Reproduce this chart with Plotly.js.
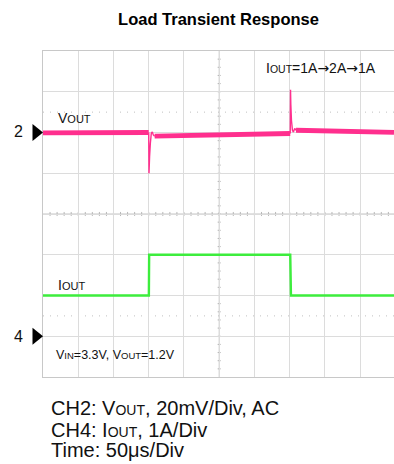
<!DOCTYPE html>
<html>
<head>
<meta charset="utf-8">
<script src="https://cdn.plot.ly/plotly-3.0.1.min.js"></script>
<style>html,body{margin:0;padding:0;background:#fff;}#chart{width:394px;height:464px;}</style>
</head>
<body>
<div id="chart"></div>
<script>
// ---- data (time in µs, VOUT in mV AC-coupled, IOUT in A) ----
const titleText = 'Load Transient Response';
// steady VOUT band (null = gap where the transient is drawn thin)
const timeBand = [0, 60, 120, 150.0, null, 158.4, 200, 250, 300, 350.8, null, 359, 400, 450, 498];
const voutBand = [-0.2, -0.1, -0.1, 0, null, -1.8, -1.5, -1.1, -0.8, -0.5, null, 1.1, 0.8, 0.4, 0.1];
// load step 1A -> 2A : undershoot
const timeDip = [150.0, 150.4, 151.2, 152.3, 153.7, 155.1, 156.5, 158.4];
const voutDip = [0, -20, -12, -5.4, -0.3, 0.3, -1.2, -1.8];
// load step 2A -> 1A : overshoot
const timeSpike = [350.8, 351.2, 351.6, 352.5, 353.9, 355.3, 357.1, 359];
const voutSpike = [-0.5, 21, 14, 6, 1.1, 0.2, 2.0, 1.1];
// output current
const timeIout = [0, 150.2, 150.6, 350.8, 351.8, 498];
const iout = [1, 1, 2, 2, 1, 1];
// text
const chMarkers = ['2', '4'];
const ARW = '<span style="font-family:DejaVu Sans">→</span>';
const labelVout = 'V<span style="font-size:11px">OUT</span>';
const labelIout = 'I<span style="font-size:11px">OUT</span>';
const labelStep = 'I<span style="font-size:10.5px">OUT</span>=1A' + ARW + '2A' + ARW + '1A';
const labelCond = 'V<span style="font-size:9.5px">IN</span>=3.3V, V<span style="font-size:9.5px">OUT</span>=1.2V';
const footLines = [
  'CH2: V<span style="font-size:14px">OUT</span>, 20mV/Div, AC',
  'CH4: I<span style="font-size:14px">OUT</span>, 1A/Div',
  'Time: 50μs/Div'
];

// ---- layout geometry ----
const L = 43, T = 51, W = 351, H = 326;
const px = p => (p - L) / W;
const py = p => (T + H - p) / H;
const FONT = 'Liberation Sans, Arial, sans-serif';
const PINK = '#ff2f8e', GREEN = '#3ded3d';
const GRID = '#dcdcdc';

const traces = [
  {x: timeBand, y: voutBand, mode: 'lines', line: {color: PINK, width: 4.8}, connectgaps: false, hoverinfo: 'skip'},
  {x: timeDip, y: voutDip, mode: 'lines', line: {color: PINK, width: 1.4}, hoverinfo: 'skip'},
  {x: timeSpike, y: voutSpike, mode: 'lines', line: {color: PINK, width: 1.4}, hoverinfo: 'skip'},
  {x: timeIout, y: iout, yaxis: 'y2', mode: 'lines', line: {color: GREEN, width: 2.4}, hoverinfo: 'skip'}
];

const shapes = [];
// centre cross lines (slightly darker) with small tick marks
shapes.push({type: 'line', xref: 'paper', yref: 'y', x0: 0, x1: 1, y0: -40, y1: -40, line: {color: '#c4c4c4', width: 1}, layer: 'below'});
shapes.push({type: 'line', xref: 'x', yref: 'paper', x0: 250, x1: 250, y0: 0, y1: 1, line: {color: '#c4c4c4', width: 1}, layer: 'below'});
for (let t = 10; t < 498; t += 10) {
  shapes.push({type: 'line', xref: 'x', yref: 'y', x0: t, x1: t, y0: -41, y1: -39, line: {color: '#b8b8b8', width: 1}, layer: 'below'});
}
for (let v = -116; v < 40; v += 4) {
  shapes.push({type: 'line', xref: 'x', yref: 'y', x0: 247.8, x1: 252.2, y0: v, y1: v, line: {color: '#b8b8b8', width: 1}, layer: 'below'});
}
// dotted trigger/level lines
shapes.push({type: 'line', xref: 'paper', yref: 'y', x0: 0, x1: 1, y0: 10, y1: 10, line: {color: '#c0c0c0', width: 1, dash: '1px,6px'}, layer: 'below'});
shapes.push({type: 'line', xref: 'paper', yref: 'y2', x0: 0, x1: 1, y0: 0.5, y1: 0.5, line: {color: '#c0c0c0', width: 1, dash: '1px,6px'}, layer: 'below'});
// channel ground markers (triangles)
shapes.push({type: 'path', xref: 'paper', yref: 'y', xsizemode: 'pixel', ysizemode: 'pixel', xanchor: 0, yanchor: 0,
  path: 'M-10.5,8.5 L0,0 L-10.5,-8.5 Z', fillcolor: '#000', line: {width: 0}});
shapes.push({type: 'path', xref: 'paper', yref: 'y2', xsizemode: 'pixel', ysizemode: 'pixel', xanchor: 0, yanchor: 0,
  path: 'M-10.5,8.5 L0,0 L-10.5,-8.5 Z', fillcolor: '#000', line: {width: 0}});

function ann(text, xp, yp, size, extra) {
  return Object.assign({text: text, xref: 'paper', yref: 'paper', x: px(xp), y: py(yp), xanchor: 'left', yanchor: 'middle',
    showarrow: false, font: {family: FONT, size: size, color: '#111'}}, extra || {});
}
const annotations = [
  ann(chMarkers[0], 11.5, 131.7, 16),
  ann(chMarkers[1], 11.5, 336.5, 16),
  ann(labelVout, 56, 117.5, 14),
  ann(labelIout, 56, 284.5, 14),
  ann(labelStep, 378, 67.5, 14, {xanchor: 'right'}),
  ann(labelCond, 54, 354.5, 12.5),
  ann(footLines[0], 49, 407.9, 20),
  ann(footLines[1], 49, 429.7, 20),
  ann(footLines[2], 49, 450.2, 20)
];

const layout = {
  width: 394, height: 464,
  margin: {l: L, r: 0, t: T, b: 87, pad: 0},
  paper_bgcolor: '#fff', plot_bgcolor: '#fff',
  showlegend: false,
  title: {text: '<b>' + titleText + '</b>', font: {family: FONT, size: 16.5, color: '#000'},
    xref: 'paper', x: 0.5, xanchor: 'center', yref: 'container', y: 1 - 18.8 / 464, yanchor: 'middle'},
  xaxis: {range: [0, 498], tick0: 0, dtick: 50, showgrid: true, gridcolor: GRID, gridwidth: 1,
    showline: true, linecolor: '#c8c8c8', linewidth: 1, mirror: true, showticklabels: false, ticks: '', zeroline: false, fixedrange: true},
  yaxis: {range: [-120, 40], tick0: 0, dtick: 20, showgrid: true, gridcolor: GRID, gridwidth: 1,
    showline: true, linecolor: '#c8c8c8', linewidth: 1, showticklabels: false, ticks: '', zeroline: false, fixedrange: true},
  yaxis2: {range: [-1, 7], overlaying: 'y', showgrid: false, showline: false, showticklabels: false, ticks: '', zeroline: false, fixedrange: true},
  shapes: shapes,
  annotations: annotations
};

Plotly.newPlot('chart', traces, layout, {staticPlot: true, displayModeBar: false});
</script>
</body>
</html>
